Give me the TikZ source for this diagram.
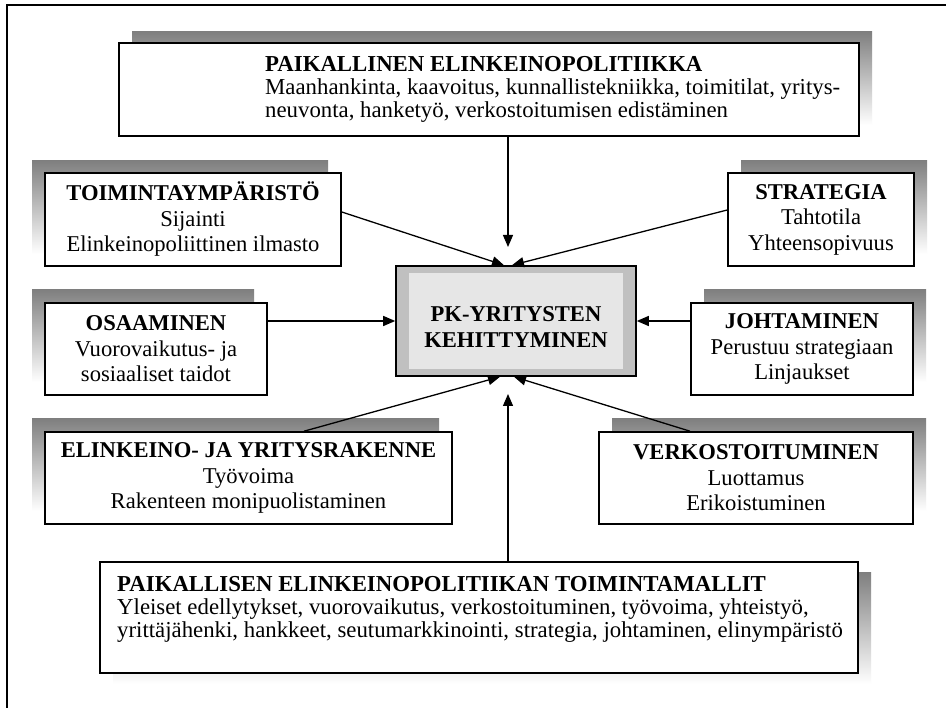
\documentclass[tikz,border=0pt]{standalone}
\usepackage{fontspec}
\setmainfont{Liberation Serif}
\usetikzlibrary{arrows.meta,calc}
\definecolor{shade}{HTML}{C0C0C0}
\definecolor{core}{HTML}{E6E6E6}
\begin{document}
\begin{tikzpicture}[x=1pt,y=-1pt,
  every node/.style={font=\fontsize{22.6pt}{25.5pt}\selectfont},
  box/.style={draw=black, line width=1.6pt, fill=white, inner sep=0pt, align=center},
  tight/.style={font=\fontsize{22.8pt}{23pt}\selectfont, inner sep=0pt, align=left, anchor=north west},
  arr/.style={line width=1.3pt, -{Triangle[length=12pt,width=10pt]}},
]
\useasboundingbox (0,0) rectangle (946,708);
\fill[white] (0,0) rectangle (946,708);
% outer frame (open to the right and bottom)
\draw[line width=1.5pt] (7,708) -- (7,5) -- (946,5);

% drop shadows
\fill[shade] (132,32) rectangle (872,125);
\fill[shade] (32,161) rectangle (328,254);
\fill[shade] (32,290) rectangle (254,382);
\fill[shade] (32,419) rectangle (439,511);
\fill[shade] (741,161) rectangle (927,254);
\fill[shade] (704,290) rectangle (926,382);
\fill[shade] (612,419) rectangle (926,511);
\fill[shade] (113,573) rectangle (871,684);

% top box
\node[box, minimum width=740pt, minimum height=93pt] (T) at (489,89.5) {};
\node[tight] (Ttext) at (265,56) {\textbf{PAIKALLINEN ELINKEINOPOLITIIKKA}\\
  Maanhankinta, kaavoitus, kunnallistekniikka, toimitilat, yritys-\\
  neuvonta, hanketyö, verkostoitumisen edistäminen};

% left column
\node[box, minimum width=296pt, minimum height=93pt] (A) at (193,219.5)
  {\textbf{TOIMINTAYMPÄRISTÖ}\\Sijainti\\Elinkeinopoliittinen ilmasto};
\node[box, minimum width=222pt, minimum height=92pt] (B) at (156,349)
  {\textbf{OSAAMINEN}\\Vuorovaikutus- ja\\sosiaaliset taidot};
\node[box, minimum width=407pt, minimum height=92pt] (C) at (248.5,478)
  {\textbf{ELINKEINO- JA YRITYSRAKENNE}\\Työvoima\\Rakenteen monipuolistaminen};

% right column
\node[box, minimum width=186pt, minimum height=93pt] (D) at (821,219.5)
  {\textbf{STRATEGIA}\\Tahtotila\\Yhteensopivuus};
\node[box, minimum width=222pt, minimum height=92pt] (E) at (802,349)
  {\textbf{JOHTAMINEN}\\Perustuu strategiaan\\Linjaukset};
\node[box, minimum width=314pt, minimum height=92pt] (F) at (756,478)
  {\textbf{VERKOSTOITUMINEN}\\Luottamus\\Erikoistuminen};

% bottom box
\node[box, minimum width=758pt, minimum height=111pt] (G) at (479,617.5) {};
\node[tight] (Gtext) at (117,576) {\textbf{PAIKALLISEN ELINKEINOPOLITIIKAN TOIMINTAMALLIT}\\
  Yleiset edellytykset, vuorovaikutus, verkostoituminen, työvoima, yhteistyö,\\
  yrittäjähenki, hankkeet, seutumarkkinointi, strategia, johtaminen, elinympäristö};

% central box
\node[draw=black, line width=1.6pt, fill=shade, minimum width=240pt, minimum height=110pt, inner sep=0pt] (K) at (516,321) {};
\fill[core] (409,273) rectangle (623,369);
\node[align=center, inner sep=0pt] (Ktext) at (516,327) {\textbf{PK-YRITYSTEN}\\\textbf{KEHITTYMINEN}};

% connectors
\coordinate (topTip) at (508,247);
\coordinate (botTip) at (508,394);
\draw[arr] (T.south -| topTip) -- (topTip);
\draw[arr] ([yshift=7.5pt]A.east) -- ([xshift=-12pt]K.north);
\draw[arr] ([yshift=9.5pt]D.west) -- ([xshift=-4pt]K.north);
\draw[arr] (K.west -| B.east) -- (K.west);
\draw[arr] (K.east -| E.west) -- (K.east);
\draw[arr] ([xshift=55.5pt]C.north) -- ([xshift=-16pt]K.south);
\draw[arr] ([xshift=-66pt]F.north) -- ([xshift=-2pt]K.south);
\draw[arr] (G.north -| botTip) -- (botTip);
\end{tikzpicture}
\end{document}
